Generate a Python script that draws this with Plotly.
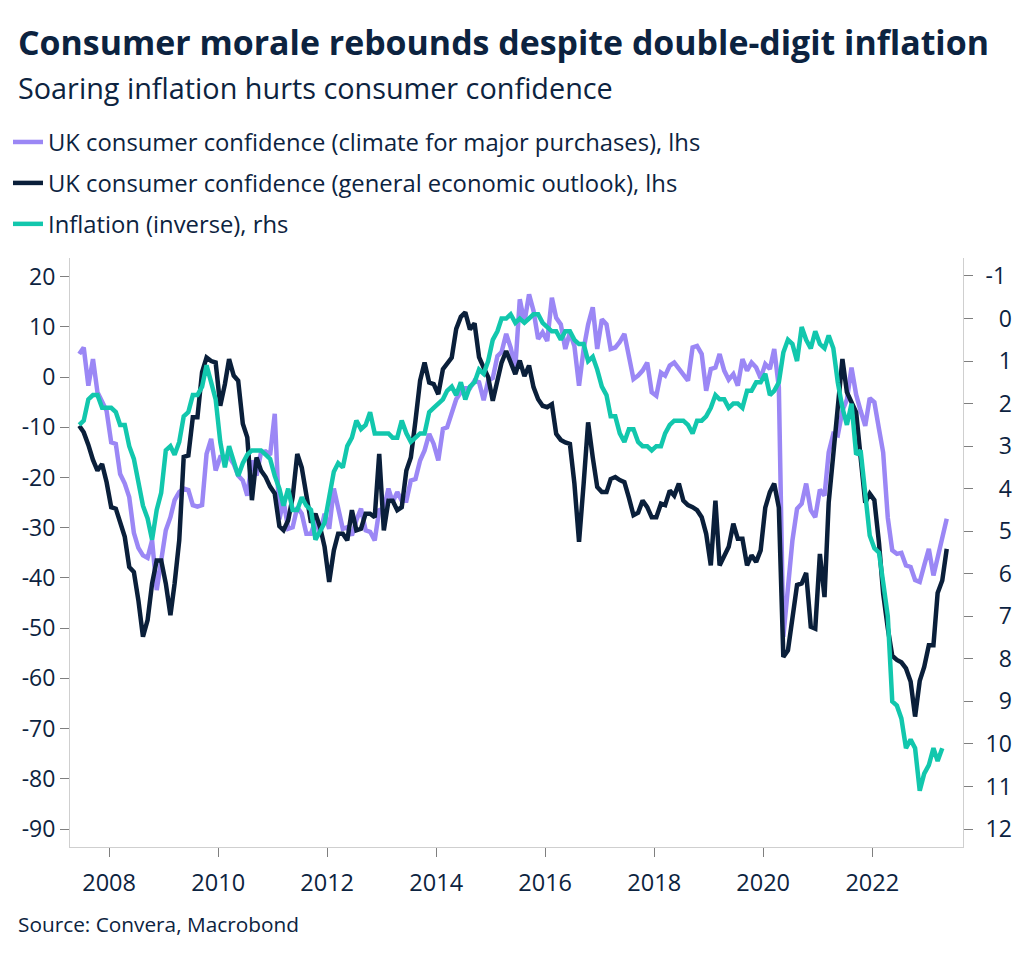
import pandas as pd
import plotly.graph_objects as go

# ---------------- data (monthly, from May 2007) ----------------
start_month = "2007-05-15"

major_purchases = [
    4.6, 5.9, -1.7, 3.6, -3.0, -5.0, -6.7, -13.0, -13.3, -19.3, -21.2, -23.9,
    -31.0, -34.0, -35.5, -36.0, -32.5, -42.4, -37.1, -30.5, -27.9, -24.5, -22.9, -22.2,
    -22.5, -25.5, -25.8, -25.5, -15.3, -12.3, -18.6, -15.9, -15.9, -15.9, -17.3, -19.6,
    -20.6, -23.6, -16.6, -19.6, -15.0, -14.8, -15.5, -7.3, -28.3, -24.6, -30.2, -29.9,
    -25.9, -27.2, -31.2, -31.2, -28.5, -31.2, -27.2, -30.2, -22.2, -26.5, -30.2, -29.9,
    -31.5, -28.5, -26.2, -30.5, -30.8, -32.5, -26.5, -26.2, -22.2, -24.9, -22.9, -24.6,
    -24.6, -20.6, -20.3, -16.6, -14.6, -11.3, -13.3, -16.6, -10.3, -10.0, -7.3, -4.4,
    -3.0, -2.2, -2.2, -0.7, -1.0, -4.6, -0.7, -0.2, 4.2, 5.0, 8.6, 5.9,
    1.9, 15.5, 10.9, 16.5, 13.2, 7.6, 8.9, 7.2, 15.8, 11.8, 10.5, 5.6,
    8.9, 6.2, -1.7, 5.6, 10.5, 13.9, 5.6, 11.5, 10.5, 5.6, 5.9, 7.0,
    8.6, 3.6, -0.4, 0.3, 1.3, 2.9, -3.0, -3.7, 0.9, 0.3, 2.3, 2.9,
    1.6, 0.3, -0.7, 5.9, 6.2, 4.6, -2.7, 1.6, 1.9, 4.6, 1.3, -0.5,
    0.6, -1.7, 3.6, 1.3, 2.9, 1.9, -0.2, 2.6, 1.6, 5.6, -2.0, -51.7,
    -43.0, -32.5, -26.2, -25.2, -21.2, -26.5, -27.9, -22.4, -23.6, -15.0, -11.3, -11.6,
    -6.7, -4.5, 1.9, -3.5, -6.7, -9.7, -4.2, -5.0, -10.3, -15.0, -28.0, -34.5,
    -35.2, -35.0, -37.5, -37.8, -40.4, -40.8, -37.5, -34.2, -39.5, -36.0, -32.0, -28.2,
]

economic_outlook = [
    -9.7, -11.0, -13.5, -16.5, -18.6, -17.3, -20.9, -25.9, -26.2, -28.9, -31.8, -37.8,
    -38.8, -44.4, -51.7, -48.4, -41.1, -36.5, -36.5, -41.1, -47.4, -41.1, -32.5, -15.9,
    -15.6, -8.0, -8.0, 1.0, 3.9, 3.2, 2.9, -5.7, -1.4, 3.6, 0.3, -0.7,
    -9.3, -12.0, -24.5, -16.0, -18.6, -19.9, -21.8, -23.2, -29.7, -30.5, -28.5, -23.9,
    -15.3, -18.0, -24.0, -29.0, -27.2, -29.9, -33.8, -40.8, -34.5, -31.2, -31.2, -32.5,
    -26.5, -30.5, -30.2, -27.2, -27.2, -27.9, -15.3, -30.5, -24.6, -24.6, -26.5, -25.9,
    -18.6, -16.0, -8.7, -0.7, 2.9, -1.1, -1.4, -3.4, 1.6, 2.6, 3.9, 9.6,
    12.0, 12.9, 9.5, 10.7, 4.0, 1.9, 0.0, -4.7, -1.0, 2.9, 5.2, 3.0,
    0.6, 3.3, 0.2, 2.3, -2.0, -4.4, -5.7, -6.0, -5.4, -11.3, -12.5, -13.0,
    -13.3, -21.2, -32.8, -21.2, -9.0, -16.0, -21.9, -22.9, -22.9, -20.3, -19.9, -20.5,
    -20.9, -24.0, -27.5, -27.0, -24.6, -25.9, -27.9, -27.9, -25.2, -25.5, -22.6, -23.6,
    -21.2, -24.6, -25.5, -25.9, -26.5, -27.9, -31.2, -37.5, -24.6, -37.5, -35.8, -33.8,
    -29.2, -32.2, -32.2, -37.5, -35.5, -36.8, -34.5, -26.0, -22.9, -21.2, -26.0, -55.7,
    -54.4, -48.4, -41.4, -41.1, -39.0, -49.7, -50.1, -35.2, -43.8, -25.0, -15.0, -5.0,
    3.6, -3.0, -5.2, -7.0, -16.0, -25.0, -23.2, -24.5, -33.0, -43.1, -50.0, -55.5,
    -56.3, -56.8, -58.0, -60.6, -67.6, -60.5, -57.7, -53.4, -53.4, -43.0, -40.5, -34.2,
]

inflation = [
    2.5, 2.4, 1.9, 1.8, 1.8, 2.1, 2.1, 2.1,
    2.2, 2.5, 2.5, 3.0, 3.3, 3.8, 4.4, 4.7, 5.2, 4.5, 4.1, 3.1,
    3.0, 3.2, 2.9, 2.3, 2.2, 1.8, 1.8, 1.6, 1.1, 1.5, 1.9, 2.9,
    3.5, 3.0, 3.4, 3.7, 3.4, 3.2, 3.1, 3.1, 3.1, 3.2, 3.3, 3.7,
    4.0, 4.4, 4.0, 4.5, 4.5, 4.2, 4.4, 4.5, 5.2, 5.0, 4.8, 4.2,
    3.6, 3.4, 3.5, 3.0, 2.8, 2.4, 2.6, 2.5, 2.2, 2.7, 2.7, 2.7,
    2.7, 2.8, 2.8, 2.4, 2.7, 2.9, 2.8, 2.7, 2.7, 2.2, 2.1, 2.0,
    1.9, 1.7, 1.6, 1.8, 1.5, 1.9, 1.6, 1.5, 1.2, 1.3, 1.0, 0.5,
    0.3, 0.0, 0.0, -0.1, 0.1, 0.0, 0.1, 0.0, -0.1, -0.1, 0.1, 0.2,
    0.3, 0.3, 0.5, 0.3, 0.3, 0.5, 0.6, 0.6, 1.0, 0.9, 1.2, 1.6,
    1.8, 2.3, 2.3, 2.7, 2.9, 2.6, 2.6, 2.9, 3.0, 3.0, 3.1, 3.0,
    3.0, 2.7, 2.5, 2.4, 2.4, 2.4, 2.5, 2.7, 2.4, 2.4, 2.3, 2.1,
    1.8, 1.9, 1.9, 2.1, 2.0, 2.0, 2.1, 1.7, 1.7, 1.5, 1.5, 1.3,
    1.8, 1.7, 1.5, 0.8, 0.5, 0.6, 1.0, 0.2, 0.5, 0.7, 0.3, 0.6,
    0.7, 0.4, 0.7, 1.5, 2.1, 2.5, 2.0, 3.2, 3.1, 4.2, 5.1, 5.4,
    5.5, 6.2, 7.0, 9.0, 9.1, 9.4, 10.1, 9.9, 10.1, 11.1, 10.7, 10.5,
    10.1, 10.4, 10.1,
]

series_names = [
    "UK consumer confidence (climate for major purchases), lhs",
    "UK consumer confidence (general economic outlook), lhs",
    "Inflation (inverse), rhs",
]

left_ticks = [20, 10, 0, -10, -20, -30, -40, -50, -60, -70, -80, -90]
right_ticks = [-1, 0, 1, 2, 3, 4, 5, 6, 7, 8, 9, 10, 11, 12]
year_ticks = [2008, 2010, 2012, 2014, 2016, 2018, 2020, 2022]

# ---------------- styling / layout ----------------
NAVY = "#0c2340"
PURPLE = "#9b87f5"
DARK = "#0a1f3a"
TEAL = "#12c7ad"
FONT = "Open Sans"

OFF = 8                      # the page body margin shifts the figure by 8px
W, H = 1024 - OFF, 958 - OFF
ML, MT, MR, MB = 62, 250, 61, 111
PW, PH = W - ML - MR, H - MT - MB

def px_x(X):   # screen x -> paper x
    return (X - OFF - ML) / PW

def px_y(Y):   # screen y -> paper y
    return (H - MB - (Y - OFF)) / PH

def months(n):
    return pd.date_range(start=start_month, periods=n, freq="MS") + pd.Timedelta(days=14)

fig = go.Figure()
fig.add_trace(go.Scatter(x=months(len(major_purchases)), y=major_purchases,
                         name=series_names[0], mode="lines",
                         line=dict(color=PURPLE, width=4.5), legendgroup="a"))
fig.add_trace(go.Scatter(x=months(len(economic_outlook)), y=economic_outlook,
                         name=series_names[1], mode="lines",
                         line=dict(color=DARK, width=4.5), legendgroup="b"))
fig.add_trace(go.Scatter(x=months(len(inflation)), y=inflation,
                         name=series_names[2], mode="lines", yaxis="y2",
                         line=dict(color=TEAL, width=4.5), legendgroup="c"))

YFONT = dict(family=FONT, size=23, color=NAVY)
XFONT = dict(family=FONT, size=23.5, color=NAVY)

fig.update_layout(
    width=W, height=H,
    paper_bgcolor="white", plot_bgcolor="white",
    margin=dict(l=ML, r=MR, t=MT, b=MB, autoexpand=False),
    font=dict(family=FONT, color=NAVY, size=19),
    title=dict(text="<b>Consumer morale rebounds despite double-digit inflation</b>",
               font=dict(family=FONT, size=33.9, color=NAVY),
               xref="container", yref="container", x=(18 - OFF) / W, xanchor="left",
               y=1 - (43 - OFF) / H, yanchor="middle", pad=dict(l=0, r=0, t=0, b=0)),
    showlegend=True,
    legend=dict(xref="container", yref="container", x=0, xanchor="left",
                y=1 - (120 - OFF) / H, yanchor="top", orientation="v",
                font=dict(family=FONT, size=23.8, color=NAVY),
                tracegroupgap=7, itemwidth=30, bgcolor="rgba(0,0,0,0)"),
    xaxis=dict(type="date", range=["2007-04-14", "2023-09-01"],
               tickvals=[f"{y}-01-01" for y in year_ticks],
               ticktext=[str(y) for y in year_ticks], tickangle=0,
               ticks="outside", ticklen=9, tickcolor="#7f7f7f", tickwidth=1,
               ticklabelstandoff=6,
               showline=True, linecolor="#cfcfcf", linewidth=1,
               showgrid=False, zeroline=False, tickfont=XFONT),
    yaxis=dict(range=[-93.57, 23.72], tickvals=left_ticks,
               ticktext=[str(v) for v in left_ticks],
               ticks="outside", ticklen=9, tickcolor="#7f7f7f", tickwidth=1,
               showline=True, linecolor="#cfcfcf", linewidth=1,
               showgrid=False, zeroline=False, tickfont=YFONT),
    yaxis2=dict(range=[12.423, -1.423], overlaying="y", side="right",
                tickvals=right_ticks,
                ticktext=[(str(v) if len(str(v)) > 1 else "\u2007" + str(v)) for v in right_ticks],
                ticks="outside", ticklen=9, tickcolor="#7f7f7f", tickwidth=1,
                ticklabelstandoff=8,
                showline=True, linecolor="#cfcfcf", linewidth=1,
                showgrid=False, zeroline=False, tickfont=YFONT),
    annotations=[
        dict(text="Soaring inflation hurts consumer confidence",
             xref="paper", yref="paper", x=px_x(16), xanchor="left",
             y=px_y(88), yanchor="middle", showarrow=False,
             font=dict(family=FONT, size=28.8, color=NAVY)),
        dict(text="Source: Convera, Macrobond",
             xref="paper", yref="paper", x=px_x(16), xanchor="left",
             y=px_y(924), yanchor="middle", showarrow=False,
             font=dict(family=FONT, size=20.8, color=NAVY)),
    ],
)

fig.write_html("out.html")
